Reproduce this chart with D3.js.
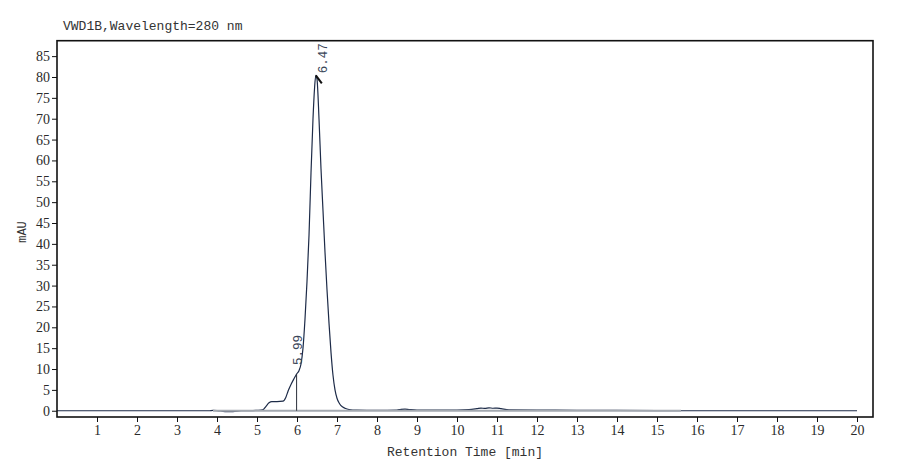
<!DOCTYPE html>
<html>
<head>
<meta charset="utf-8">
<script src="https://cdn.jsdelivr.net/npm/d3@7"></script>
<style>
  body { margin: 0; background: #fff; }
  .axis text { font-family: "Liberation Serif", serif; font-size: 14px; fill: #2a2a2a; }
  .axis path, .axis line { stroke: #111; }
  .mono { font-family: "Liberation Mono", "DejaVu Sans Mono", monospace; }
</style>
</head>
<body>
<div id="chart"></div>
<script>
// retention time [min] and detector signal [mAU]
const times = [0, 3.8, 3.9, 4.0, 4.2, 4.4, 4.6, 4.9, 5.0, 5.1, 5.16, 5.22, 5.3, 5.37, 5.5, 5.65,
  5.72, 5.78, 5.85, 5.92, 5.99, 6.05, 6.1, 6.15, 6.2, 6.25, 6.3, 6.35, 6.4, 6.44, 6.47,
  6.5, 6.55, 6.6, 6.65, 6.7, 6.75, 6.8, 6.85, 6.9, 6.95, 7.0, 7.05, 7.1, 7.2, 7.3, 7.5,
  8.0, 8.5, 8.6, 8.7, 8.8, 9.0, 10.0, 10.3, 10.5, 10.6, 10.7, 10.8, 10.9, 11.0, 11.1,
  11.3, 12.0, 13.0, 15.0, 15.6, 20];
const signal = [0, 0, 0.1, 0.05, -0.2, -0.2, 0, 0.05, 0.1, 0.15, 0.3, 1.0, 1.9, 2.2, 2.2, 2.3,
  3.2, 4.8, 6.3, 7.6, 8.8, 9.6, 11.2, 15, 22, 31, 42, 57, 70, 77.5, 80.4,
  79.5, 70, 58, 48, 38, 29, 21, 14, 8.5, 5, 3.0, 1.9, 1.2, 0.6, 0.3, 0.15,
  0.1, 0.15, 0.35, 0.4, 0.3, 0.15, 0.15, 0.25, 0.5, 0.65, 0.55, 0.7, 0.6, 0.65, 0.5,
  0.2, 0.15, 0.1, 0.05, 0, 0];

const yTicks = d3.range(0, 90, 5);
const xTicks = d3.range(1, 21, 1);

// labelled peaks
const peakTimes = [5.99, 6.47];
const peakValues = [8.8, 80.4];
const peakLabels = ['5.99', '6.47'];

// integration baseline span
const baselineSpan = [3.9, 15.6];

class Chromatogram {

    constructor(_config) {
        this.config = {
            parentElement: _config.parentElement,
            containerWidth: _config.containerWidth || 900,
            containerHeight: _config.containerHeight || 470,
            margin: _config.margin || {top: 40.7, right: 27, bottom: 53, left: 57}
        };
        this.data = times.map((t, i) => ({t: t, v: signal[i]}));
        this.initVis();
    }

    initVis() {
        let vis = this;

        vis.width = vis.config.containerWidth - vis.config.margin.left - vis.config.margin.right;
        vis.height = vis.config.containerHeight - vis.config.margin.top - vis.config.margin.bottom;

        vis.svg = d3.select(vis.config.parentElement)
            .append('svg')
            .attr('width', vis.config.containerWidth)
            .attr('height', vis.config.containerHeight);

        vis.chart = vis.svg.append('g')
            .attr('transform', `translate(${vis.config.margin.left},${vis.config.margin.top})`);

        vis.xScale = d3.scaleLinear()
            .domain([0, 20.4])
            .range([0, vis.width]);

        vis.yScale = d3.scaleLinear()
            .domain([-1.5, 88.7])
            .range([vis.height, 0]);

        vis.xAxis = d3.axisBottom(vis.xScale)
            .tickValues(xTicks)
            .tickSize(5)
            .tickPadding(3)
            .tickFormat(d3.format('d'));

        vis.yAxis = d3.axisLeft(vis.yScale)
            .tickValues(yTicks)
            .tickSize(5)
            .tickPadding(2)
            .tickFormat(d3.format('d'));

        vis.xAxisG = vis.chart.append('g')
            .attr('class', 'axis x-axis')
            .attr('transform', `translate(0,${vis.height})`);

        vis.yAxisG = vis.chart.append('g')
            .attr('class', 'axis y-axis');

        // title and axis titles
        vis.svg.append('text')
            .attr('class', 'mono')
            .attr('x', 63)
            .attr('y', 30)
            .attr('font-size', 13)
            .attr('fill', '#333')
            .text('VWD1B,Wavelength=280 nm');

        vis.svg.append('text')
            .attr('class', 'mono')
            .attr('x', vis.config.margin.left + vis.width / 2)
            .attr('y', 456)
            .attr('text-anchor', 'middle')
            .attr('font-size', 13)
            .attr('fill', '#333')
            .text('Retention Time [min]');

        vis.svg.append('text')
            .attr('class', 'mono')
            .attr('transform', 'translate(26,232) rotate(-90)')
            .attr('text-anchor', 'middle')
            .attr('font-size', 12)
            .attr('fill', '#333')
            .text('mAU');

        vis.renderVis();
    }

    renderVis() {
        let vis = this;

        const line = d3.line()
            .x(d => vis.xScale(d.t))
            .y(d => vis.yScale(d.v))
            .curve(d3.curveMonotoneX);

        vis.chart.append('path')
            .datum(vis.data)
            .attr('fill', 'none')
            .attr('stroke', '#1d2b48')
            .attr('stroke-width', 1.2)
            .attr('d', line);

        // integration baseline (drawn over the trace)
        vis.chart.append('line')
            .attr('x1', vis.xScale(baselineSpan[0]))
            .attr('x2', vis.xScale(baselineSpan[1]))
            .attr('y1', vis.yScale(0))
            .attr('y2', vis.yScale(0))
            .attr('stroke', '#a3a9b0')
            .attr('stroke-width', 1.8);

        // drop line of the first peak
        vis.chart.append('line')
            .attr('x1', vis.xScale(peakTimes[0]))
            .attr('x2', vis.xScale(peakTimes[0]))
            .attr('y1', vis.yScale(peakValues[0]))
            .attr('y2', vis.yScale(0))
            .attr('stroke', '#2a2f3a')
            .attr('stroke-width', 1);

        // apex marker of the main peak
        vis.chart.append('line')
            .attr('x1', vis.xScale(peakTimes[1]))
            .attr('x2', vis.xScale(peakTimes[1]) + 6)
            .attr('y1', vis.yScale(peakValues[1]))
            .attr('y2', vis.yScale(peakValues[1]) + 8)
            .attr('stroke', '#111')
            .attr('stroke-width', 2);

        const offsets = [[5, -9], [11, -2]];
        vis.chart.selectAll('.peak-label')
            .data(peakLabels)
            .enter()
            .append('text')
            .attr('class', 'peak-label mono')
            .attr('transform', (d, i) => {
                const x = vis.xScale(peakTimes[i]) + offsets[i][0];
                const y = vis.yScale(peakValues[i]) + offsets[i][1];
                return `translate(${x},${y}) rotate(-90)`;
            })
            .attr('font-size', 12.5)
            .attr('fill', '#3a4658')
            .text(d => d);

        vis.xAxisG.call(vis.xAxis);
        vis.yAxisG.call(vis.yAxis);
        vis.chart.selectAll('.axis .domain').remove();

        // frame
        vis.chart.append('rect')
            .attr('width', vis.width)
            .attr('height', vis.height)
            .attr('fill', 'none')
            .attr('stroke', '#111')
            .attr('stroke-width', 1.6);
    }
}

new Chromatogram({parentElement: '#chart'});
</script>
</body>
</html>
